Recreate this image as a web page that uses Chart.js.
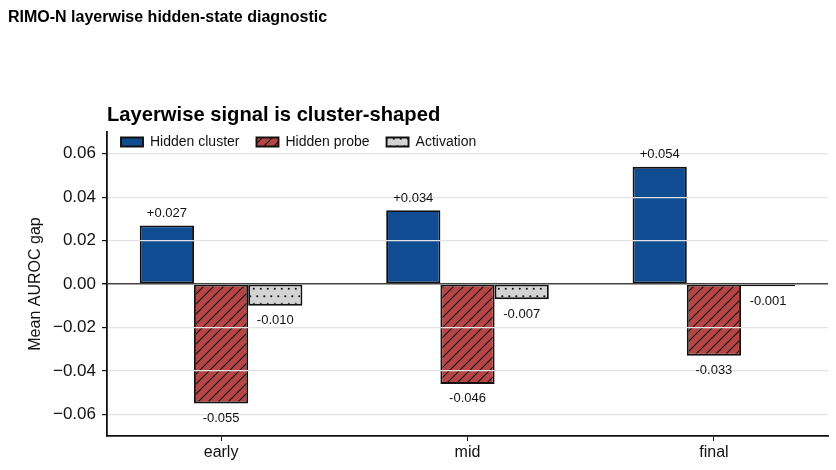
<!DOCTYPE html>
<html>
<head>
<meta charset="utf-8">
<script src="https://cdn.jsdelivr.net/npm/chart.js@4.4.1/dist/chart.umd.min.js"></script>
<style>
  html, body { margin: 0; padding: 0; background: #fff; }
  #wrap { width: 836px; height: 470px; }
</style>
</head>
<body>
<div id="wrap"><canvas id="c" width="836" height="470"></canvas></div>
<script>
// data
var layers = ['early', 'mid', 'final'];
var hiddenCluster = [0.027, 0.034, 0.054];
var hiddenProbe = [-0.055, -0.046, -0.033];
var activation = [-0.010, -0.007, -0.001];
var yTicks = [-0.06, -0.04, -0.02, 0.00, 0.02, 0.04, 0.06];

Chart.defaults.font.family = "'Liberation Sans', Arial, sans-serif";
Chart.defaults.color = '#111';

var ctx = document.getElementById('c').getContext('2d');

function hatch(bg) {
    var c = document.createElement('canvas');
    c.width = 10; c.height = 10;
    var g = c.getContext('2d');
    g.fillStyle = bg;
    g.fillRect(0, 0, 10, 10);
    g.strokeStyle = '#111';
    g.lineWidth = 1.1;
    g.beginPath();
    g.moveTo(0, 10); g.lineTo(10, 0);
    g.moveTo(-2, 2); g.lineTo(2, -2);
    g.moveTo(8, 12); g.lineTo(12, 8);
    g.stroke();
    return ctx.createPattern(c, 'repeat');
}

function dots(bg) {
    var c = document.createElement('canvas');
    c.width = 7; c.height = 15;
    var g = c.getContext('2d');
    g.fillStyle = bg;
    g.fillRect(0, 0, 7, 15);
    g.fillStyle = '#111';
    g.beginPath(); g.arc(1.8, 3.8, 1.05, 0, Math.PI * 2); g.fill();
    g.beginPath(); g.arc(5.3, 11.3, 1.05, 0, Math.PI * 2); g.fill();
    return ctx.createPattern(c, 'repeat');
}

function pts(arr) {
    return arr.map(function(v, i) { return {x: i, y: v}; });
}

// put the legend inside the axes, like matplotlib's upper-left legend
var legendInside = {
    id: 'legendInside',
    beforeUpdate: function(chart) {
        if (chart.legend) chart.legend.position = 'chartArea';
    },
    afterLayout: function(chart) {
        var lg = chart.legend, a = chart.chartArea;
        if (!lg) return;
        var h = lg.height;
        lg.left = a.left - 3;
        lg.right = a.right;
        lg.width = lg.right - lg.left;
        lg.top = a.top - 14;
        lg.bottom = lg.top + h;
    }
};

var valueLabels = {
    id: 'valueLabels',
    afterDraw: function(chart) {
        var c = chart.ctx;
        c.save();
        c.font = '13px "Liberation Sans", Arial, sans-serif';
        c.fillStyle = '#111';
        c.textAlign = 'center';
        c.textBaseline = 'middle';
        chart.data.datasets.forEach(function(ds, di) {
            var meta = chart.getDatasetMeta(di);
            meta.data.forEach(function(bar, i) {
                var v = ds.data[i].y;
                var txt = (v > 0 ? '+' : '') + v.toFixed(3);
                var y = v >= 0 ? bar.y - 12 : bar.y + 15;
                c.fillText(txt, bar.x, y);
            });
        });
        c.restore();
    }
};

new Chart(ctx, {
    type: 'bar',
    data: {
        datasets: [
            {
                label: 'Hidden cluster',
                data: pts(hiddenCluster),
                backgroundColor: '#104c92',
                borderColor: '#111',
                borderWidth: 1.9,
                borderSkipped: false
            },
            {
                label: 'Hidden probe',
                data: pts(hiddenProbe),
                backgroundColor: hatch('#b84545'),
                borderColor: '#111',
                borderWidth: 1.9,
                borderSkipped: false
            },
            {
                label: 'Activation',
                data: pts(activation),
                backgroundColor: dots('#d3d3d3'),
                borderColor: '#111',
                borderWidth: 1.9,
                borderSkipped: false
            }
        ]
    },
    options: {
        responsive: false,
        animation: false,
        categoryPercentage: 0.66,
        barPercentage: 1.0,
        layout: { padding: { left: 8, right: 8, top: 0, bottom: 0 } },
        plugins: {
            title: {
                display: true,
                text: 'RIMO-N layerwise hidden-state diagnostic',
                align: 'start',
                color: '#000',
                font: { size: 16, weight: 'bold' },
                padding: { top: 8, bottom: 0 }
            },
            subtitle: {
                display: true,
                text: 'Layerwise signal is cluster-shaped',
                align: 'start',
                fullSize: false,
                color: '#000',
                font: { size: 20.2, weight: 'bold' },
                padding: { top: 76.6, bottom: 4 }
            },
            legend: {
                display: true,
                position: 'top',
                align: 'start',
                labels: {
                    boxWidth: 22,
                    boxHeight: 9,
                    padding: 17,
                    color: '#111',
                    font: { size: 14 }
                }
            },
            tooltip: { enabled: false }
        },
        scales: {
            x: {
                type: 'linear',
                min: -0.463,
                max: 2.463,
                offset: false,
                afterBuildTicks: function(scale) {
                    scale.ticks = layers.map(function(l, i) { return {value: i}; });
                },
                afterFit: function(scale) { scale.height = 34; },
                ticks: {
                    callback: function(v) { return layers[v]; },
                    font: { size: 16 },
                    color: '#111',
                    padding: 2,
                    maxRotation: 0
                },
                grid: {
                    offset: false,
                    drawOnChartArea: false,
                    drawTicks: true,
                    tickLength: 5,
                    tickColor: '#111'
                },
                border: { display: true, color: '#111', width: 1.8 }
            },
            y: {
                min: -0.070,
                max: 0.070,
                afterBuildTicks: function(scale) {
                    scale.ticks = yTicks.map(function(v) { return {value: v}; });
                },
                afterFit: function(scale) { scale.width = 99; },
                ticks: {
                    callback: function(v) {
                        return (v < 0 ? '\u2212' : '') + Math.abs(v).toFixed(2);
                    },
                    font: { size: 17 },
                    color: '#111',
                    padding: 6
                },
                title: {
                    display: true,
                    text: 'Mean AUROC gap',
                    font: { size: 16 },
                    color: '#111',
                    padding: { top: 18, bottom: 0 }
                },
                grid: {
                    z: 1,
                    color: function(c) { return c.tick && c.tick.value === 0 ? '#444' : '#e3e3e3'; },
                    lineWidth: function(c) { return c.tick && c.tick.value === 0 ? 1.4 : 1.2; },
                    tickLength: 5,
                    tickColor: '#111'
                },
                border: { display: true, color: '#111', width: 1.8, z: 2 }
            }
        }
    },
    plugins: [legendInside, valueLabels]
});
</script>
</body>
</html>
